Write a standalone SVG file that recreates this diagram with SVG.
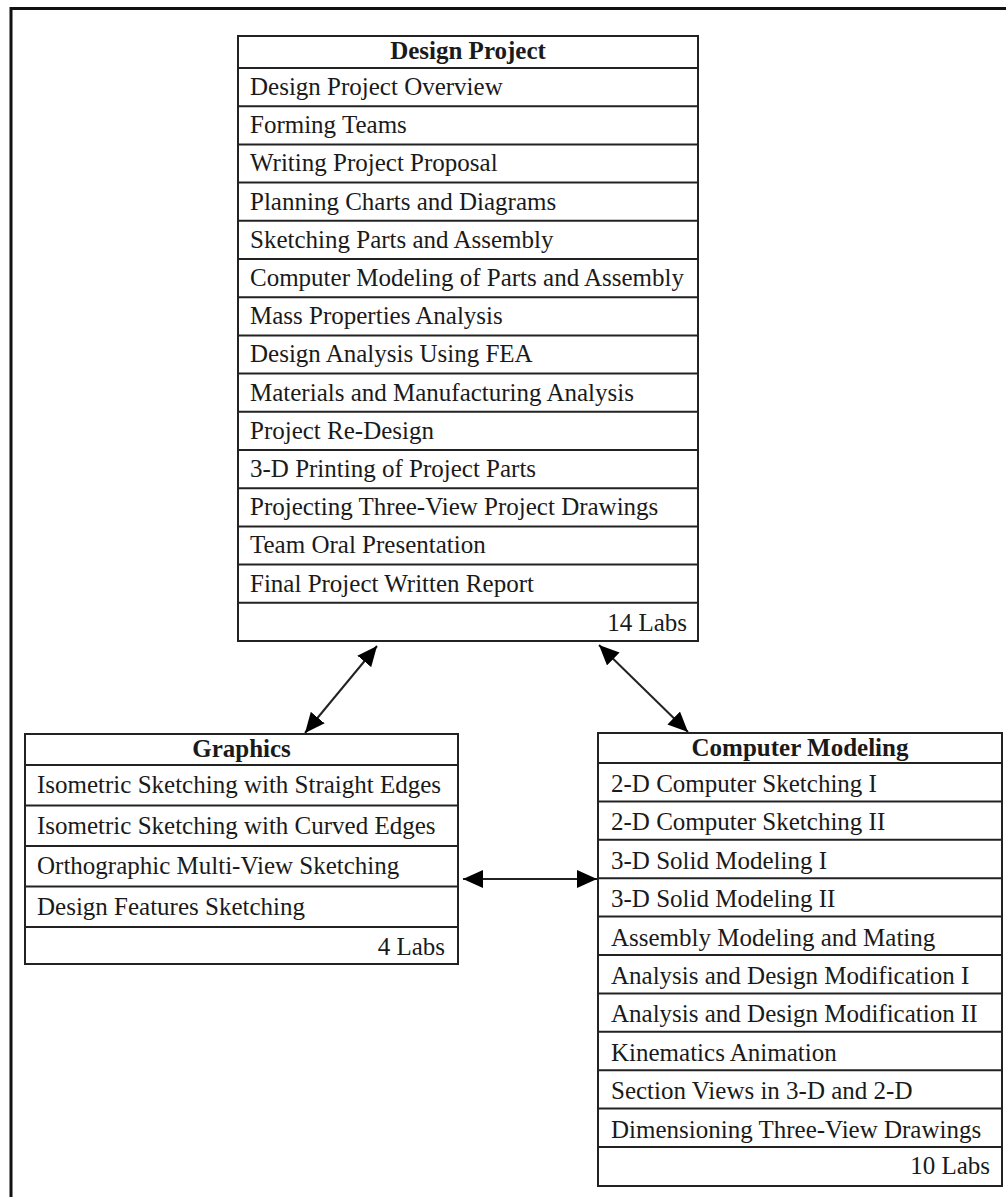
<svg xmlns="http://www.w3.org/2000/svg" width="1006" height="1197" viewBox="0 0 1006 1197">
<defs>
<style>
.frame{fill:none;stroke:#111;stroke-width:3}
.box{fill:#fff;stroke:#222;stroke-width:2}
.sep{stroke:#222;stroke-width:2}
.t{font-family:"Liberation Serif","Times New Roman",serif;font-size:25px;fill:#1a1a1a}
.h{font-family:"Liberation Serif","Times New Roman",serif;font-size:25px;font-weight:bold;fill:#1a1a1a;text-anchor:middle}
.r{text-anchor:end}
.conn{stroke:#222;stroke-width:2;fill:none}
</style>
<marker id="ah" viewBox="0 0 20 18" refX="20" refY="9" markerWidth="20" markerHeight="18" markerUnits="userSpaceOnUse" orient="auto-start-reverse">
<path d="M0,0 L20,9 L0,18 Z" fill="#000"/>
</marker>
</defs>
<rect width="1006" height="1197" fill="#fff"/>
<path class="frame" d="M11,1197 V8.5 H1006"/>

<g id="design-project">
<rect class="box" x="238" y="36" width="460" height="605"/>
<text class="h" x="468" y="59">Design Project</text>
<line class="sep" x1="238" y1="68" x2="698" y2="68"/>
<line class="sep" x1="238" y1="106.2" x2="698" y2="106.2"/>
<line class="sep" x1="238" y1="144.4" x2="698" y2="144.4"/>
<line class="sep" x1="238" y1="182.6" x2="698" y2="182.6"/>
<line class="sep" x1="238" y1="220.8" x2="698" y2="220.8"/>
<line class="sep" x1="238" y1="259" x2="698" y2="259"/>
<line class="sep" x1="238" y1="297.2" x2="698" y2="297.2"/>
<line class="sep" x1="238" y1="335.4" x2="698" y2="335.4"/>
<line class="sep" x1="238" y1="373.6" x2="698" y2="373.6"/>
<line class="sep" x1="238" y1="411.8" x2="698" y2="411.8"/>
<line class="sep" x1="238" y1="450" x2="698" y2="450"/>
<line class="sep" x1="238" y1="488.2" x2="698" y2="488.2"/>
<line class="sep" x1="238" y1="526.4" x2="698" y2="526.4"/>
<line class="sep" x1="238" y1="564.6" x2="698" y2="564.6"/>
<line class="sep" x1="238" y1="602.8" x2="698" y2="602.8"/>
<text class="t" x="250" y="95">Design Project Overview</text>
<text class="t" x="250" y="133.2">Forming Teams</text>
<text class="t" x="250" y="171.4">Writing Project Proposal</text>
<text class="t" x="250" y="209.6">Planning Charts and Diagrams</text>
<text class="t" x="250" y="247.8">Sketching Parts and Assembly</text>
<text class="t" x="250" y="286">Computer Modeling of Parts and Assembly</text>
<text class="t" x="250" y="324.2">Mass Properties Analysis</text>
<text class="t" x="250" y="362.4">Design Analysis Using FEA</text>
<text class="t" x="250" y="400.6">Materials and Manufacturing Analysis</text>
<text class="t" x="250" y="438.8">Project Re-Design</text>
<text class="t" x="250" y="477">3-D Printing of Project Parts</text>
<text class="t" x="250" y="515.2">Projecting Three-View Project Drawings</text>
<text class="t" x="250" y="553.4">Team Oral Presentation</text>
<text class="t" x="250" y="591.6">Final Project Written Report</text>
<text class="t r" x="687" y="631">14 Labs</text>
</g>

<g id="graphics">
<rect class="box" x="25" y="734" width="433" height="230"/>
<text class="h" x="241.5" y="757">Graphics</text>
<line class="sep" x1="25" y1="765" x2="458" y2="765"/>
<line class="sep" x1="25" y1="805.5" x2="458" y2="805.5"/>
<line class="sep" x1="25" y1="846" x2="458" y2="846"/>
<line class="sep" x1="25" y1="886.5" x2="458" y2="886.5"/>
<line class="sep" x1="25" y1="927" x2="458" y2="927"/>
<text class="t" x="37" y="793">Isometric Sketching with Straight Edges</text>
<text class="t" x="37" y="833.5">Isometric Sketching with Curved Edges</text>
<text class="t" x="37" y="873.5">Orthographic Multi-View Sketching</text>
<text class="t" x="37" y="914.5">Design Features Sketching</text>
<text class="t r" x="445" y="955">4 Labs</text>
</g>

<g id="computer-modeling">
<rect class="box" x="598" y="733" width="404" height="453"/>
<text class="h" x="800" y="756">Computer Modeling</text>
<line class="sep" x1="598" y1="763" x2="1002" y2="763"/>
<line class="sep" x1="598" y1="801.4" x2="1002" y2="801.4"/>
<line class="sep" x1="598" y1="839.8" x2="1002" y2="839.8"/>
<line class="sep" x1="598" y1="878.2" x2="1002" y2="878.2"/>
<line class="sep" x1="598" y1="916.6" x2="1002" y2="916.6"/>
<line class="sep" x1="598" y1="955" x2="1002" y2="955"/>
<line class="sep" x1="598" y1="993.4" x2="1002" y2="993.4"/>
<line class="sep" x1="598" y1="1031.8" x2="1002" y2="1031.8"/>
<line class="sep" x1="598" y1="1070.2" x2="1002" y2="1070.2"/>
<line class="sep" x1="598" y1="1108.6" x2="1002" y2="1108.6"/>
<line class="sep" x1="598" y1="1147" x2="1002" y2="1147"/>
<text class="t" x="611" y="792">2-D Computer Sketching I</text>
<text class="t" x="611" y="830.4">2-D Computer Sketching II</text>
<text class="t" x="611" y="868.8">3-D Solid Modeling I</text>
<text class="t" x="611" y="907.2">3-D Solid Modeling II</text>
<text class="t" x="611" y="945.6">Assembly Modeling and Mating</text>
<text class="t" x="611" y="984">Analysis and Design Modification I</text>
<text class="t" x="611" y="1022.4">Analysis and Design Modification II</text>
<text class="t" x="611" y="1060.8">Kinematics Animation</text>
<text class="t" x="611" y="1099.2">Section Views in 3-D and 2-D</text>
<text class="t" x="611" y="1137.6">Dimensioning Three-View Drawings</text>
<text class="t r" x="990" y="1174">10 Labs</text>
</g>

<g id="connectors">
<line class="conn" x1="377" y1="646" x2="305" y2="733" marker-start="url(#ah)" marker-end="url(#ah)"/>
<line class="conn" x1="599" y1="645" x2="688" y2="732" marker-start="url(#ah)" marker-end="url(#ah)"/>
<line class="conn" x1="463" y1="879" x2="597" y2="879" marker-start="url(#ah)" marker-end="url(#ah)"/>
</g>
</svg>
